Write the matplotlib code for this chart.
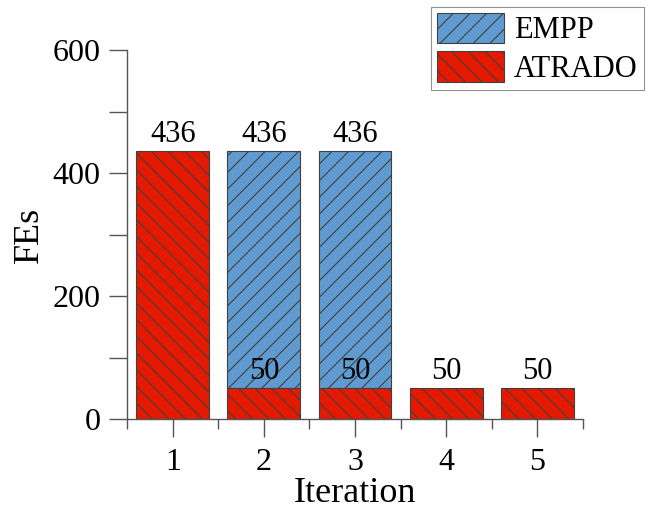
import matplotlib
matplotlib.use("Agg")
import matplotlib.pyplot as plt
from matplotlib.ticker import MultipleLocator, FixedLocator
from matplotlib.patches import Patch

plt.rcParams['font.family'] = ['Liberation Serif', 'DejaVu Serif']
plt.rcParams['hatch.color'] = '#555555'
plt.rcParams['hatch.linewidth'] = 0.8

iterations = [1, 2, 3, 4, 5]
atrado_fes = [436, 50, 50, 50, 50]
empp_total = [None, 436, 436, None, None]

red = '#e51900'
blue = '#5f9bd0'
edge = '#404040'

fig = plt.figure(figsize=(6.49, 5.11), dpi=100)
ax = fig.add_axes([0.196, 0.180, 0.702, 0.722])

# EMPP stacked on top of ATRADO where present
for x, tot, base in zip(iterations, empp_total, atrado_fes):
    if tot is not None:
        ax.bar(x, tot - base, bottom=base, width=0.8, color=blue,
               edgecolor=edge, linewidth=0.8, hatch='//')
ax.bar(iterations, atrado_fes, width=0.8, color=red, edgecolor=edge,
       linewidth=0.8, hatch='\\\\')

# value labels
for x, tot, base in zip(iterations, empp_total, atrado_fes):
    top = tot if tot is not None else base
    if top != base or base > 100:
        ax.text(x, top + 3, f'{top}', ha='center', va='bottom', fontsize=22)
    if base < 100:
        ax.text(x, base + 3, f'{base}', ha='center', va='bottom', fontsize=22)

ax.set_xlim(0.5, 5.5)
ax.set_ylim(0, 600)
ax.set_xticks(iterations)
ax.set_xticklabels([str(i) for i in iterations])
ax.xaxis.set_minor_locator(FixedLocator([0.5, 1.5, 2.5, 3.5, 4.5, 5.5]))
ax.set_yticks([0, 200, 400, 600])
ax.yaxis.set_minor_locator(MultipleLocator(100))

for s in ['top', 'right']:
    ax.spines[s].set_visible(False)
for s in ['left', 'bottom']:
    ax.spines[s].set_color('#555555')
    ax.spines[s].set_linewidth(1.0)

ax.tick_params(axis='both', which='major', direction='out', length=13,
               width=1.0, color='#555555', labelsize=23)
ax.tick_params(axis='x', which='major', pad=8)
ax.tick_params(axis='y', which='major', pad=6)
ax.tick_params(axis='x', which='minor', direction='out', length=7,
               width=1.0, color='#555555')
ax.tick_params(axis='y', which='minor', direction='out', length=13,
               width=1.0, color='#555555')

ax.set_xlabel('Iteration', fontsize=26, labelpad=0)
ax.set_ylabel('FEs', fontsize=26, labelpad=5)

handles = [Patch(facecolor=blue, edgecolor=edge, hatch='//', linewidth=0.8),
           Patch(facecolor=red, edgecolor=edge, hatch='\\\\', linewidth=0.8)]
leg = fig.legend(handles, ['EMPP', 'ATRADO'], loc='upper right',
                 bbox_to_anchor=(0.992, 0.987), fontsize=22, frameon=True,
                 fancybox=False, edgecolor='#777777', handlelength=2.2,
                 handleheight=1.15, handletextpad=0.33, borderpad=0.2,
                 labelspacing=0.2, borderaxespad=0.0)
leg.get_frame().set_linewidth(0.8)

fig.savefig('out.png', dpi=100)
